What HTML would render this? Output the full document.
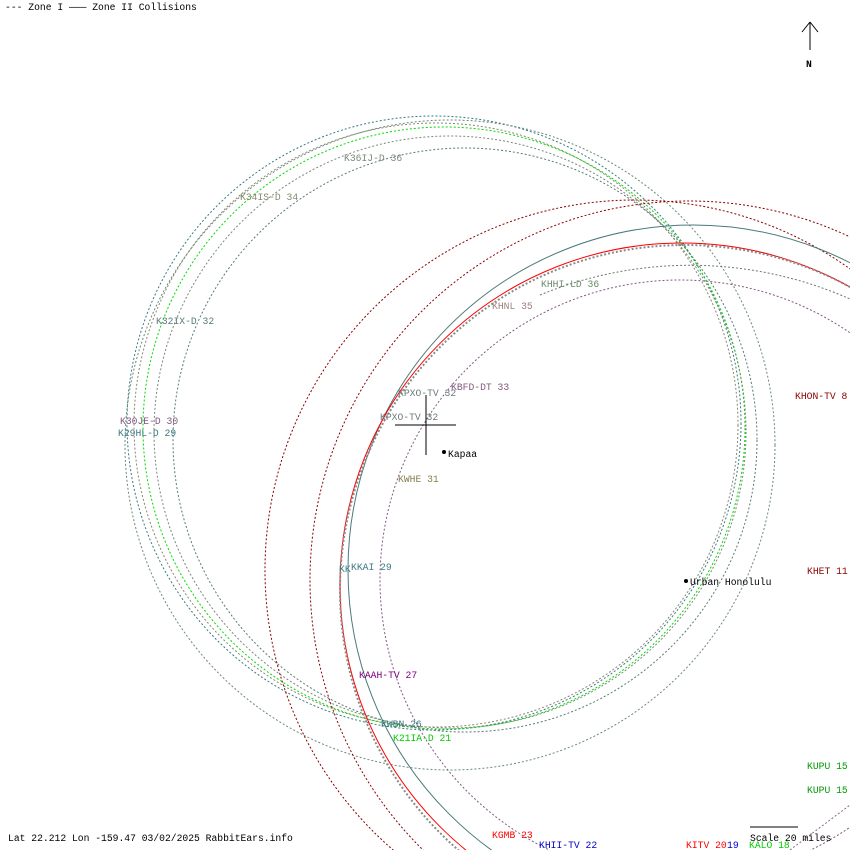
<!DOCTYPE html>
<html><head><style>
html,body{margin:0;background:#fff;width:850px;height:850px;overflow:hidden}
svg{display:block}
svg text{font-family:"Liberation Mono",monospace;font-size:9.7px}
</style></head><body>
<svg width="850" height="850" xmlns="http://www.w3.org/2000/svg">
<g fill="none" stroke-width="1">
<circle cx="434" cy="423" r="307" stroke="#3a7a80" stroke-dasharray="2,2"/>
<circle cx="436" cy="425" r="302" stroke="#888870" stroke-dasharray="2,2"/>
<circle cx="444" cy="428" r="301" stroke="#00dd00" stroke-dasharray="2,2"/>
<circle cx="450" cy="432" r="296" stroke="#7a8a7a" stroke-dasharray="2,2"/>
<circle cx="465" cy="440" r="292" stroke="#5a7a7a" stroke-dasharray="2,2"/>
<circle cx="450" cy="445" r="325" stroke="#6a8a7a" stroke-dasharray="2,2"/>
<circle cx="635" cy="570" r="370" stroke="#8b0000" stroke-dasharray="2,2"/>
<circle cx="689" cy="580" r="379" stroke="#8b0000" stroke-dasharray="2,2"/>
<circle cx="693" cy="570" r="345" stroke="#4a7a7a"/>
<circle cx="682" cy="585" r="342" stroke="#ff0000"/>
<circle cx="685" cy="590" r="345" stroke="#8a8a8a" stroke-width="2" stroke-dasharray="2,2"/>
<circle cx="680" cy="580" r="300" stroke="#805a80" stroke-dasharray="2,2"/>
<path d="M540 295 A395 395 0 0 1 850 299" stroke="#6a7a6a" stroke-dasharray="2,2"/>
<path d="M790 850 L850 805" stroke="#8a6a8a" stroke-dasharray="2,2"/>
</g>
<g stroke="#000">
<line x1="426" y1="395" x2="426" y2="455"/>
<line x1="395" y1="425" x2="456" y2="425"/>
<line x1="810" y1="22" x2="810" y2="50"/>
<line x1="810" y1="22" x2="802" y2="32"/>
<line x1="810" y1="22" x2="818" y2="32"/>
<line x1="750" y1="827" x2="798" y2="827"/>
</g>
<circle cx="444" cy="452" r="2" fill="#000"/>
<circle cx="686" cy="581" r="2" fill="#000"/>
<text x="5" y="10" fill="#000">--- Zone I ——— Zone II Collisions</text>
<text x="806" y="67" fill="#000" font-weight="bold">N</text>
<text x="344" y="161" fill="#7a8a7a">K36IJ-D 36</text>
<text x="240" y="200" fill="#888870">K34IS-D 34</text>
<text x="156" y="324" fill="#5a7a7a">K32IX-D 32</text>
<text x="120" y="424" fill="#805a80">K30JE-D 30</text>
<text x="118" y="436" fill="#3a7a80">K29HL-D 29</text>
<text x="541" y="287" fill="#6a8a6a">KHHI-LD 36</text>
<text x="492" y="309" fill="#a08080">KHNL 35</text>
<text x="451" y="390" fill="#805a80">KBFD-DT 33</text>
<text x="398" y="396" fill="#6a7a7a">KPXO-TV 32</text>
<text x="380" y="420" fill="#6a7a7a">KPXO-TV 32</text>
<text x="448" y="457" fill="#000">Kapaa</text>
<text x="398" y="482" fill="#888050">KWHE 31</text>
<text x="339" y="572" fill="#3a7a80">KK</text>
<text x="351" y="570" fill="#3a7a80">KKAI 29</text>
<text x="690" y="585" fill="#000">Urban Honolulu</text>
<text x="359" y="678" fill="#800080">KAAH-TV 27</text>
<text x="381" y="727" fill="#3a7a80">KWBN 26</text>
<text x="393" y="741" fill="#00cc00">K21IA-D 21</text>
<text x="795" y="399" fill="#8b0000">KHON-TV 8</text>
<text x="807" y="574" fill="#8b0000">KHET 11</text>
<text x="807" y="769" fill="#009900">KUPU 15</text>
<text x="807" y="793" fill="#009900">KUPU 15</text>
<text x="8" y="841" fill="#000">Lat 22.212 Lon -159.47 03/02/2025 RabbitEars.info</text>
<text x="492" y="838" fill="#ff0000">KGMB 23</text>
<text x="539" y="848" fill="#0000cc">KHII-TV 22</text>
<text x="686" y="848" fill="#ff0000">KITV 20</text>
<text x="727" y="848" fill="#0000cc">19</text>
<text x="749" y="848" fill="#00cc00">KALO 18</text>
<text x="750" y="841" fill="#000">Scale 20 miles</text>
</svg>
</body></html>
